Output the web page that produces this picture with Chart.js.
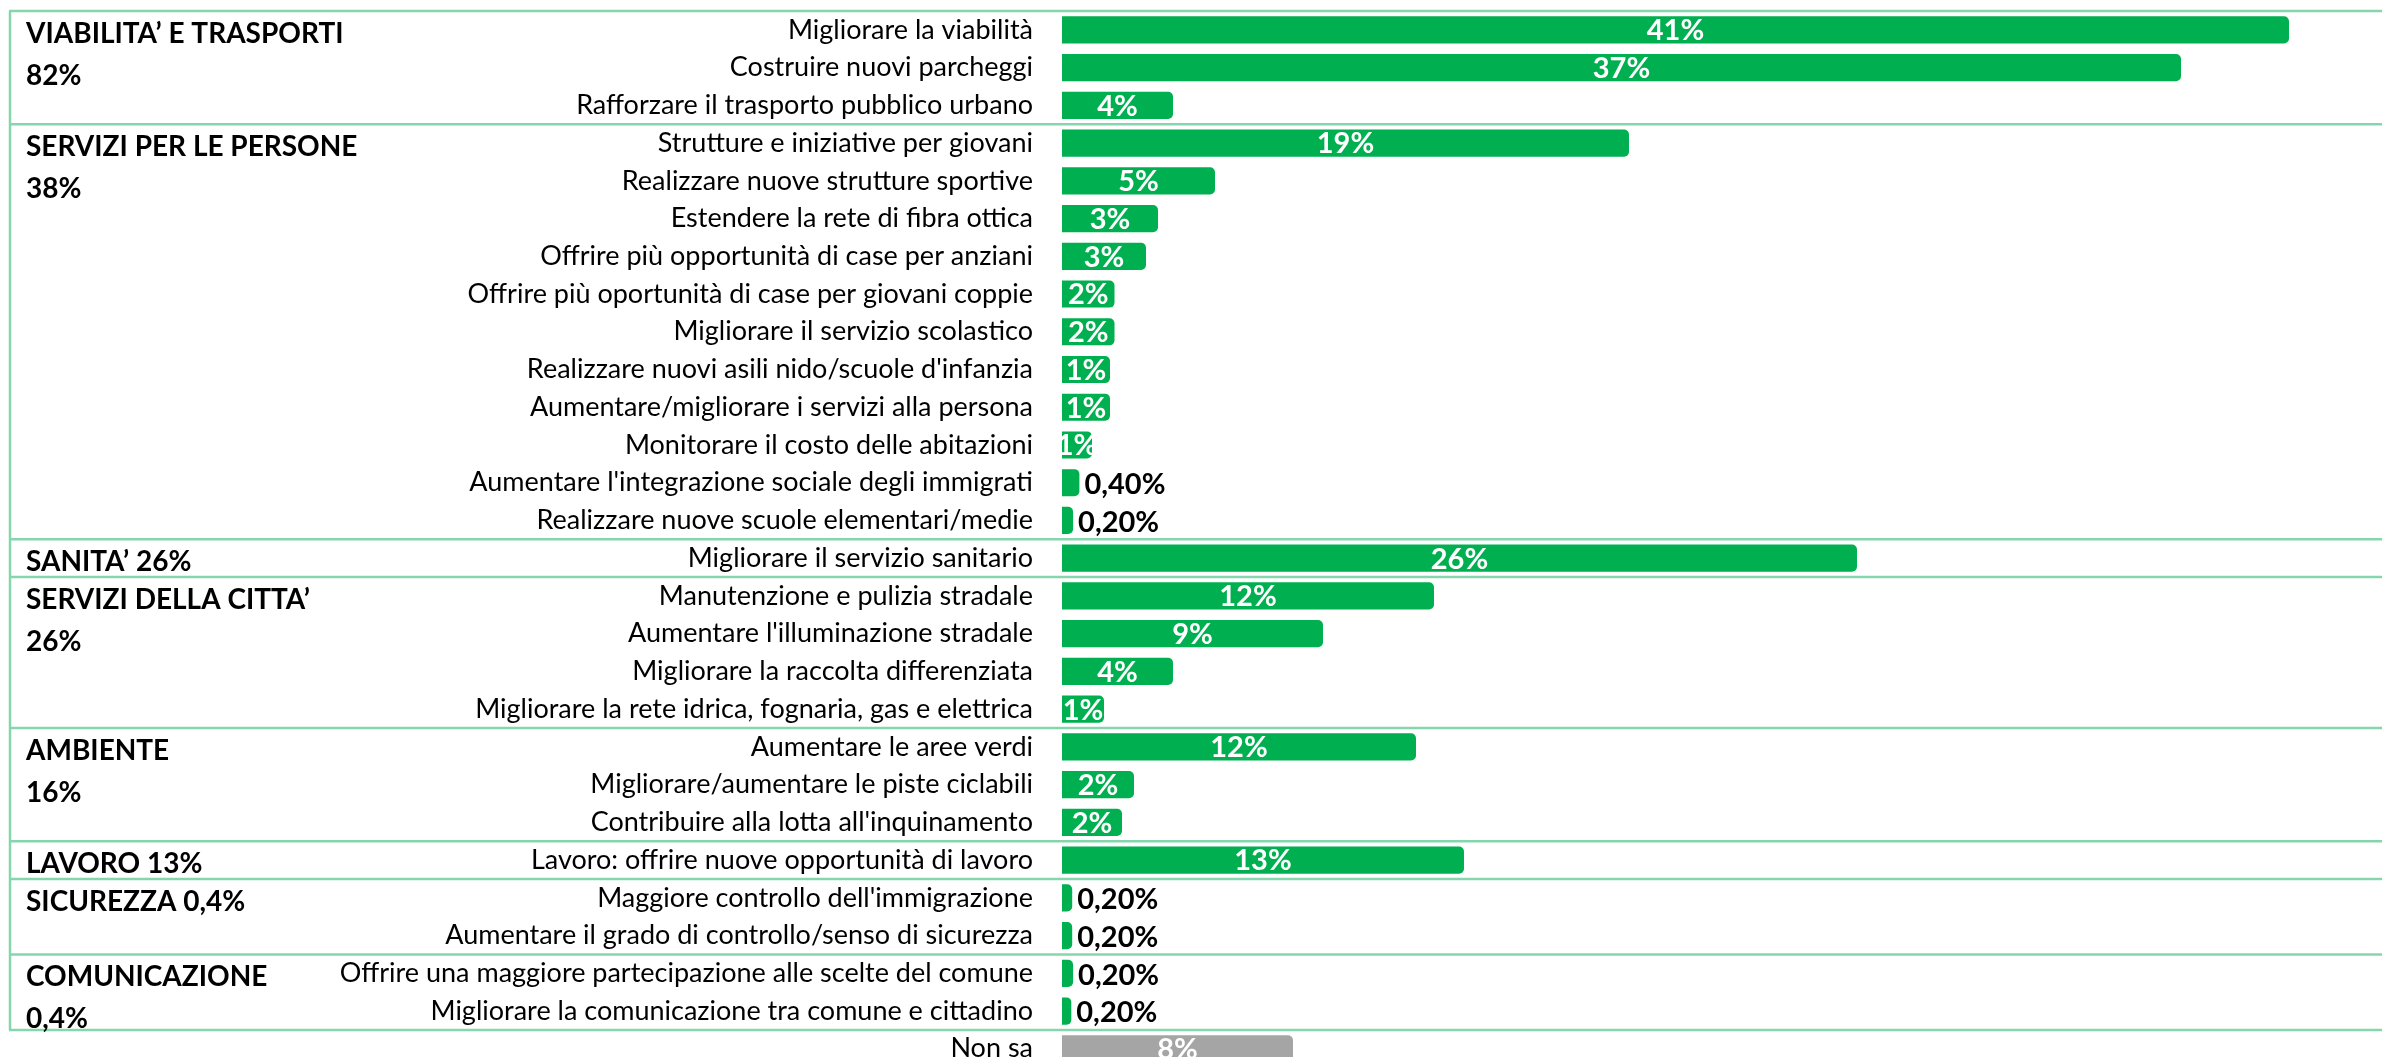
<!DOCTYPE html>
<html>
<head>
<meta charset="utf-8">
<script src="https://cdn.jsdelivr.net/npm/chart.js@4.4.1/dist/chart.umd.min.js"></script>
<style>
  html, body { margin: 0; padding: 0; background: #fff; overflow: hidden; }
  #wrap { position: relative; width: 2382px; height: 1069px; }
</style>
</head>
<body>
<div id="wrap"><canvas id="myChart" width="2382" height="1069"></canvas></div>
<script>
const categories = [
  "Migliorare la viabilità",
  "Costruire nuovi parcheggi",
  "Rafforzare il trasporto pubblico urbano",
  "Strutture e iniziative per giovani",
  "Realizzare nuove strutture sportive",
  "Estendere la rete di fibra ottica",
  "Offrire più opportunità di case per anziani",
  "Offrire più oportunità di case per giovani coppie",
  "Migliorare il servizio scolastico",
  "Realizzare nuovi asili nido/scuole d'infanzia",
  "Aumentare/migliorare i servizi alla persona",
  "Monitorare il costo delle abitazioni",
  "Aumentare l'integrazione sociale degli immigrati",
  "Realizzare nuove scuole elementari/medie",
  "Migliorare il servizio sanitario",
  "Manutenzione e pulizia stradale",
  "Aumentare l'illuminazione stradale",
  "Migliorare la raccolta differenziata",
  "Migliorare la rete idrica, fognaria, gas e elettrica",
  "Aumentare le aree verdi",
  "Migliorare/aumentare le piste ciclabili",
  "Contribuire alla lotta all'inquinamento",
  "Lavoro: offrire nuove opportunità di lavoro",
  "Maggiore controllo dell'immigrazione",
  "Aumentare il grado di controllo/senso di sicurezza",
  "Offrire una maggiore partecipazione alle scelte del comune",
  "Migliorare la comunicazione tra comune e cittadino",
  "Non sa"
];

// bar lengths (percent)
const values = [
  40.9, 37.3, 3.7, 18.9, 5.1, 3.2, 2.8, 1.75, 1.75, 1.6, 1.6, 1.0, 0.58, 0.37,
  26.5, 12.4, 8.7, 3.7, 1.4, 11.8, 2.4, 2.0, 13.4, 0.34, 0.34, 0.37, 0.31, 7.7
];

// printed labels
const valueLabels = [
  "41%", "37%", "4%", "19%", "5%", "3%", "3%", "2%", "2%", "1%", "1%", "1%", "0,40%", "0,20%",
  "26%", "12%", "9%", "4%", "1%", "12%", "2%", "2%", "13%", "0,20%", "0,20%", "0,20%", "0,20%", "8%"
];

const groupLabels = [
  ["VIABILITA’ E TRASPORTI", "82%"],
  ["SERVIZI PER LE PERSONE", "38%"],
  ["SANITA’ 26%"],
  ["SERVIZI DELLA CITTA’", "26%"],
  ["AMBIENTE", "16%"],
  ["LAVORO 13%"],
  ["SICUREZZA 0,4%"],
  ["COMUNICAZIONE", "0,4%"]
];
const groupSizes = [3, 11, 1, 4, 3, 1, 2, 2];

const FONT = "Lato, 'Noto Sans', sans-serif";
const GREEN = "#00b050";
const GREY = "#a5a5a5";
const LINE = "#86d6ad";

const groupBoxes = {
  id: "groupBoxes",
  afterDatasetsDraw(chart) {
    const ctx = chart.ctx;
    const y = chart.scales.y;
    const edges = [y.getPixelForValue(-0.5)];
    let n = 0;
    groupSizes.forEach(s => { n += s; edges.push(y.getPixelForValue(n - 0.5)); });

    ctx.save();
    ctx.strokeStyle = LINE;
    ctx.lineWidth = 2.5;
    edges.forEach(e => {
      ctx.beginPath();
      ctx.moveTo(9, e);
      ctx.lineTo(chart.width, e);
      ctx.stroke();
    });
    ctx.beginPath();
    ctx.moveTo(10, edges[0]);
    ctx.lineTo(10, edges[edges.length - 1]);
    ctx.stroke();

    ctx.fillStyle = "#000";
    ctx.font = "bold 28px " + FONT;
    ctx.textAlign = "left";
    ctx.textBaseline = "middle";
    groupLabels.forEach((lines, g) => {
      lines.forEach((t, k) => ctx.fillText(t, 26, edges[g] + 23 + k * 42));
    });
    ctx.restore();
  }
};

const barLabels = {
  id: "barLabels",
  afterDatasetsDraw(chart) {
    const ctx = chart.ctx;
    const meta = chart.getDatasetMeta(0);
    ctx.save();
    ctx.font = "bold 29px " + FONT;
    ctx.textBaseline = "middle";
    meta.data.forEach((bar, i) => {
      if (values[i] < 0.8) {
        ctx.fillStyle = "#000";
        ctx.textAlign = "left";
        ctx.fillText(valueLabels[i], bar.x + 5, bar.y + 2);
      } else {
        ctx.fillStyle = "#fff";
        ctx.textAlign = "center";
        ctx.fillText(valueLabels[i], (bar.x + bar.base) / 2, bar.y + 1);
      }
    });
    ctx.restore();
  }
};

const ctx = document.getElementById("myChart").getContext("2d");
new Chart(ctx, {
  type: "bar",
  data: {
    labels: categories,
    datasets: [{
      data: values,
      backgroundColor: categories.map((c, i) => i === categories.length - 1 ? GREY : GREEN),
      borderRadius: 5,
      barPercentage: 0.72,
      categoryPercentage: 1
    }]
  },
  options: {
    indexAxis: "y",
    responsive: false,
    animation: false,
    devicePixelRatio: 1,
    layout: { padding: { top: 11, bottom: 0, left: 0, right: 0 } },
    plugins: {
      legend: { display: false },
      tooltip: { enabled: false }
    },
    scales: {
      x: { display: false, min: 0, max: 44 },
      y: {
        grid: {
          drawOnChartArea: false,
          drawTicks: true,
          tickLength: 29,
          color: "rgba(0,0,0,0)"
        },
        border: { display: false },
        ticks: {
          color: "#000",
          padding: 0,
          autoSkip: false,
          font: { family: FONT, size: 27, lineHeight: 0.1 }
        },
        afterFit(scale) { scale.width = 1062; }
      }
    }
  },
  plugins: [groupBoxes, barLabels]
});
</script>
</body>
</html>
